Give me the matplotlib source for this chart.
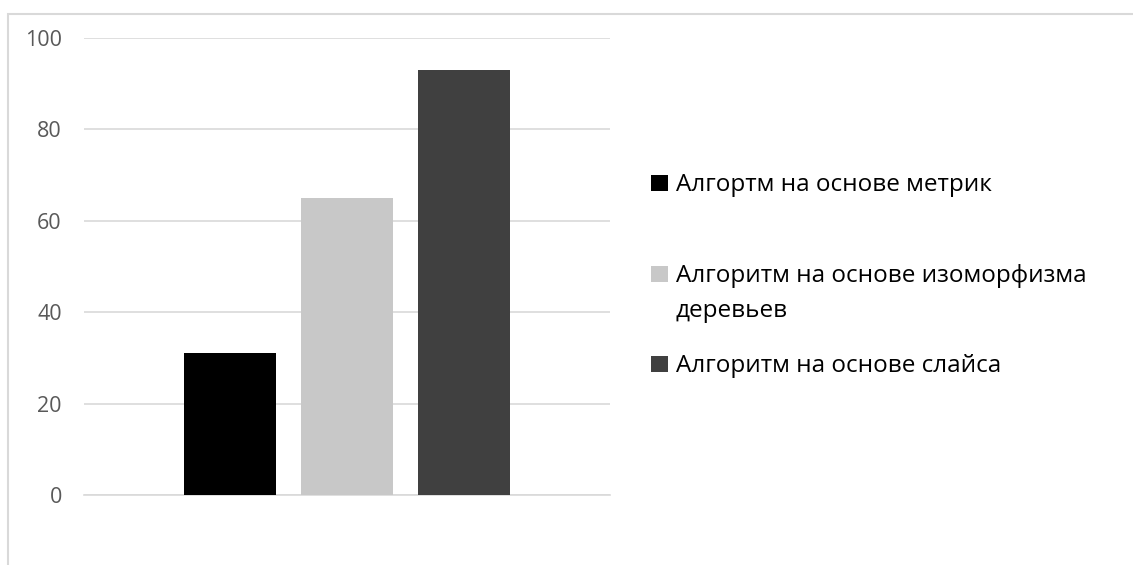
#!/usr/bin/env python3
# -*- coding: utf-8 -*-

import matplotlib
matplotlib.use("Agg")
import matplotlib.pyplot as plt
from matplotlib.patches import Rectangle

plt.rcParams['font.family'] = ['Open Sans', 'DejaVu Sans']

# data
series = ["Алгортм на основе метрик",
          "Алгоритм на основе изоморфизма\nдеревьев",
          "Алгоритм на основе слайса"]
values = [31, 65, 93]
colors = ["#000000", "#c8c8c8", "#404040"]
yticks = [0, 20, 40, 60, 80, 100]

W, H = 1133, 565
fig = plt.figure(figsize=(W/100, H/100), dpi=100)

# chart border (cropped on the right and bottom)
fig.patches.append(Rectangle((8/W, -0.1), 1.2, 1 - 14/H + 0.1,
                             transform=fig.transFigure, fill=False,
                             edgecolor="#d9d9d9", linewidth=1.5))

ax = fig.add_axes([84/W, 1 - 495/H, (610-84)/W, (495-38)/H])
pos = [-1, 0, 1]
ax.bar(pos, values, width=0.786, color=colors, zorder=3)
ax.set_xlim(-2.248, 2.248)
ax.set_ylim(0, 100)
ax.set_yticks(yticks)
ax.set_xticks([])
ax.grid(axis='y', color="#d9d9d9", linewidth=1.2, zorder=0)
for s in ["top", "right", "left"]:
    ax.spines[s].set_visible(False)
ax.spines["bottom"].set_color("#d9d9d9")
ax.spines["bottom"].set_linewidth(1.2)
ax.tick_params(axis='y', length=0, pad=16, labelsize=15.5, labelcolor="#595959")

# legend drawn by hand so the swatch sits on the first line
baselines = [191, 282, 372]
for lab, c, y in zip(series, colors, baselines):
    fig.patches.append(Rectangle((651/W, 1 - y/H), 17/W, 16/H,
                                 transform=fig.transFigure, facecolor=c,
                                 edgecolor="none"))
    for i, line in enumerate(lab.split("\n")):
        fig.text(676/W, 1 - (y + 35*i)/H, line, ha="left", va="baseline",
                 fontsize=17.5, color="#000000")

fig.savefig("out.png", dpi=100)
